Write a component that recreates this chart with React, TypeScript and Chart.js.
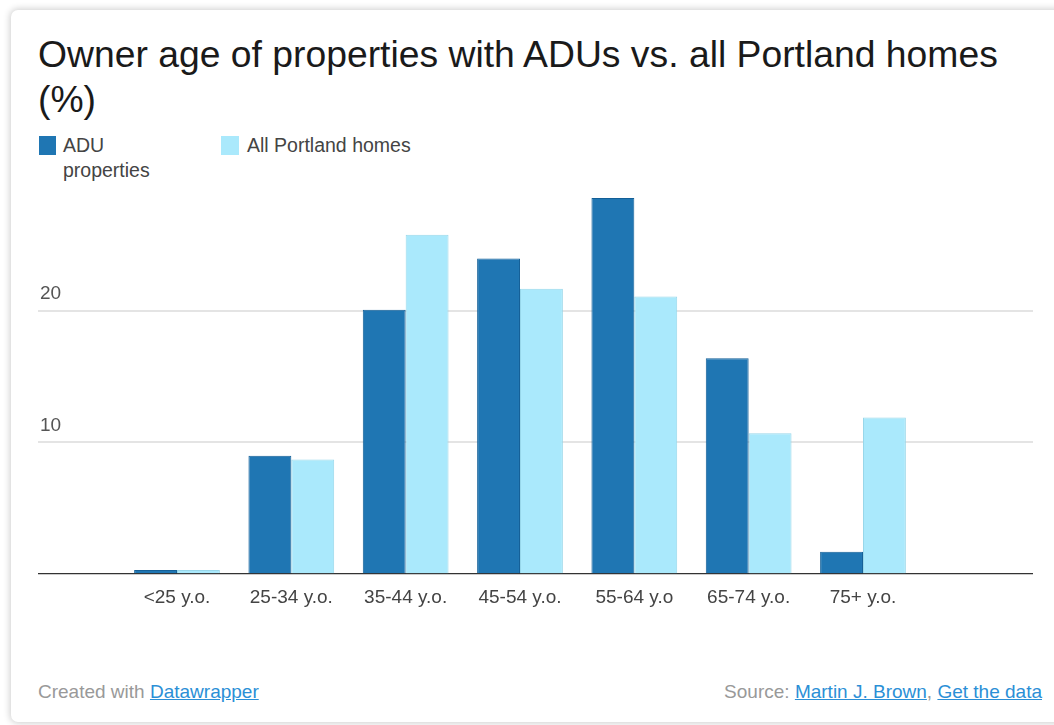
import React, { useEffect, useRef } from "react";
import { Chart, registerables } from "chart.js";

Chart.register(...registerables);

const categories = ["<25 y.o.", "25-34 y.o.", "35-44 y.o.", "45-54 y.o.", "55-64 y.o", "65-74 y.o.", "75+ y.o."];
const aduProperties = [0.3, 9.0, 20.1, 24.0, 28.6, 16.4, 1.7];
const allPortlandHomes = [0.3, 8.7, 25.8, 21.7, 21.1, 10.7, 11.9];
const yTickValues = [0, 10, 20];
const seriesNames = ["ADU properties", "All Portland homes"];

const FONT = "'Liberation Sans', Arial, Helvetica, sans-serif";
const ADU_COLOR = "#1f76b3";
const ADU_BORDER = "#135f97";
const ALL_COLOR = "#aae9fc";
const ALL_BORDER = "#98d7ea";

export default function App() {
  const canvasRef = useRef<HTMLCanvasElement | null>(null);

  useEffect(() => {
    const canvas = canvasRef.current;
    if (!canvas) return;
    const chart = new Chart(canvas, {
      type: "bar",
      data: {
        datasets: [
          {
            label: seriesNames[0],
            data: aduProperties.map((y, i) => ({ x: i, y })),
            backgroundColor: ADU_COLOR,
            borderColor: ADU_BORDER,
            borderWidth: 1,
            categoryPercentage: 0.75,
            barPercentage: 1.0,
          },
          {
            label: seriesNames[1],
            data: allPortlandHomes.map((y, i) => ({ x: i, y })),
            backgroundColor: ALL_COLOR,
            borderColor: ALL_BORDER,
            borderWidth: 1,
            categoryPercentage: 0.75,
            barPercentage: 1.0,
          },
        ],
      },
      options: {
        responsive: false,
        animation: false,
        devicePixelRatio: 1,
        layout: { padding: 0 },
        plugins: {
          legend: { display: false },
          tooltip: { enabled: false },
          title: { display: false },
        },
        scales: {
          x: {
            type: "linear",
            offset: false,
            min: -1.2157,
            max: 7.487,
            afterBuildTicks: (s: any) => {
              s.ticks = categories.map((_, i) => ({ value: i }));
            },
            afterFit: (s: any) => {
              s.height = 44;
              s.paddingLeft = 0;
              s.paddingRight = 0;
            },
            grid: { display: false, drawTicks: false, offset: false },
            border: { display: false },
            ticks: {
              autoSkip: false,
              maxRotation: 0,
              padding: 12,
              color: "#444",
              font: { family: FONT, size: 19 },
              callback: (v: any) => categories[Number(v)] ?? "",
            },
          },
          y: {
            type: "linear",
            min: 0,
            max: 29.2,
            afterBuildTicks: (s: any) => {
              s.ticks = yTickValues.map((v) => ({ value: v }));
            },
            afterFit: (s: any) => {
              s.width = 0;
              s.paddingTop = 0;
              s.paddingBottom = 0;
            },
            grid: {
              drawTicks: false,
              color: (ctx: any) => (ctx.tick && ctx.tick.value === 0 ? "#333" : "#e4e4e4"),
              lineWidth: (ctx: any) => (ctx.tick && ctx.tick.value === 0 ? 1.3 : 2),
            },
            border: { display: false },
            ticks: {
              mirror: true,
              padding: 2,
              labelOffset: -17,
              color: "#555",
              font: { family: FONT, size: 19 },
              callback: (v: any) => (Number(v) === 0 ? "" : String(v)),
            },
          },
        },
      },
    } as any);
    return () => chart.destroy();
  }, []);

  const legendText: React.CSSProperties = {
    position: "absolute",
    fontFamily: FONT,
    fontSize: 19.5,
    lineHeight: "25px",
    color: "#444",
  };
  const link: React.CSSProperties = { color: "#2b8fd6", textDecoration: "underline" };

  return (
    <div
      style={{
        position: "fixed",
        left: 0,
        top: 0,
        width: 1054,
        height: 725,
        overflow: "hidden",
        background: "#ffffff",
      }}
    >
      <div
        style={{
          position: "absolute",
          left: 11,
          top: 10,
          width: 1090,
          height: 712,
          borderRadius: 7,
          background: "#fff",
          boxShadow: "0 0 7px 1px rgba(0,0,0,0.2)",
        }}
      />
      <div
        style={{
          position: "absolute",
          left: 38,
          top: 32,
          width: 1000,
          fontFamily: FONT,
          fontSize: 37.3,
          lineHeight: "45px",
          color: "#1a1a1a",
        }}
      >
        Owner age of properties with ADUs vs. all Portland homes (%)
      </div>

      <div style={{ position: "absolute", left: 39, top: 136, width: 17, height: 19, background: ADU_COLOR }} />
      <div style={{ ...legendText, left: 63, top: 133, width: 110 }}>{seriesNames[0]}</div>
      <div style={{ position: "absolute", left: 221, top: 136, width: 18, height: 19, background: ALL_COLOR }} />
      <div style={{ ...legendText, left: 247, top: 133, whiteSpace: "nowrap" }}>{seriesNames[1]}</div>

      <canvas
        ref={canvasRef}
        width={995}
        height={428}
        style={{ position: "absolute", left: 38, top: 190, width: 995, height: 428 }}
      />

      <div
        style={{
          position: "absolute",
          left: 38,
          top: 680,
          fontFamily: FONT,
          fontSize: 19,
          lineHeight: "24px",
          color: "#999",
          whiteSpace: "nowrap",
        }}
      >
        Created with <span style={link}>Datawrapper</span>
      </div>
      <div
        style={{
          position: "absolute",
          right: 12,
          top: 680,
          fontFamily: FONT,
          fontSize: 19,
          lineHeight: "24px",
          color: "#999",
          whiteSpace: "nowrap",
        }}
      >
        Source: <span style={link}>Martin J. Brown</span>, <span style={link}>Get the data</span>
      </div>
    </div>
  );
}
